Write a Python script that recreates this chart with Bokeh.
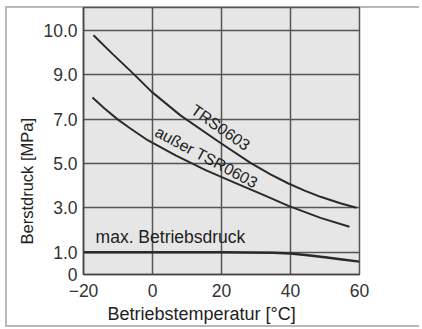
from bokeh.plotting import figure
from bokeh.models import FixedTicker, Label, Title
from bokeh.embed import file_html
from bokeh.resources import INLINE
import math

# ---- data ----
x_ticks = [-20, 0, 20, 40, 60]
y_ticks_mpa = [0, 1, 3, 5, 7, 9, 10]
y_tick_labels = ["0", "1.0", "3.0", "5.0", "7.0", "9.0", "10.0"]

temp_trs = [-17.1, -11.6, -5.5, -0.3, 8.1, 19.4, 28.4, 34.2, 39.4, 44.1, 48.7, 54.2, 59.1]
burst_trs = [9.89, 9.47, 9.02, 8.24, 7.17, 5.96, 5.03, 4.51, 4.10, 3.78, 3.50, 3.22, 3.01]

temp_other = [-17.4, -13.9, -10.1, -6.4, -1.4, 6.7, 15.4, 24.1, 32.8, 39.4, 48.7, 57.1]
burst_other = [7.97, 7.48, 6.99, 6.58, 6.05, 5.37, 4.70, 4.12, 3.54, 3.09, 2.55, 2.15]

temp_max = [-20, 0, 20, 35, 40, 45, 50, 55, 60]
press_max = [1.0, 1.0, 1.0, 0.98, 0.95, 0.87, 0.78, 0.68, 0.58]

label_trs = "TRS0603"
label_other = "außer TSR0603"
label_max = "max. Betriebsdruck"
x_label = "Betriebstemperatur [°C]"
y_label = "Berstdruck [MPa]"


# the reference's pressure axis is stretched above 9.0 MPa
def ypos(v):
    return v if v <= 9 else 9 + (v - 9) * 2.0


FONT = "Liberation Sans"
LINE = "#2a2a2a"
TXT = "#222222"
EDGE = "#b8b8b8"

p = figure(frame_width=276, frame_height=267,
           x_range=(-20, 60), y_range=(0, 12.03),
           output_backend="svg", toolbar_location=None,
           min_border_left=83, min_border_right=60,
           min_border_top=7, min_border_bottom=54)

# thin grey page frame (left, top, bottom) drawn behind a transparent canvas
p.styles = {
    "background": (
        f"linear-gradient({EDGE},{EDGE}) 5px 6px / 2px 321px no-repeat, "
        f"linear-gradient({EDGE},{EDGE}) 5px 6px / 414px 2px no-repeat, "
        f"linear-gradient({EDGE},{EDGE}) 5px 325px / 414px 2px no-repeat, "
        "white"
    )
}
p.border_fill_color = None

p.background_fill_color = "#e6e6e6"
p.outline_line_color = "#555555"
p.outline_line_width = 1.5

y_tick_pos = [ypos(v) for v in y_ticks_mpa]

p.xaxis.ticker = FixedTicker(ticks=x_ticks)
p.yaxis.ticker = FixedTicker(ticks=y_tick_pos)
p.xgrid.ticker = FixedTicker(ticks=x_ticks)
p.ygrid.ticker = FixedTicker(ticks=y_tick_pos)
p.yaxis.major_label_overrides = {pos: lab for pos, lab in zip(y_tick_pos, y_tick_labels)}

for g in (p.xgrid, p.ygrid):
    g.grid_line_color = "#555555"
    g.grid_line_width = 1.5

for ax in (p.xaxis, p.yaxis):
    ax.axis_line_color = "#444444"
    ax.axis_line_width = 1.5
    ax.major_tick_line_color = None
    ax.minor_tick_line_color = None
    ax.major_tick_out = 0
    ax.major_tick_in = 0
    ax.major_label_text_font = FONT
    ax.major_label_text_font_size = "17.5px"
    ax.major_label_text_color = "#333333"
p.xaxis.major_label_standoff = 9
p.yaxis.major_label_standoff = 6

p.line(temp_trs, [ypos(v) for v in burst_trs], line_color=LINE, line_width=2)
p.line(temp_other, [ypos(v) for v in burst_other], line_color=LINE, line_width=2)
p.line(temp_max, [ypos(v) for v in press_max], line_color=LINE, line_width=2.5)

p.add_layout(Label(x=19.7, y=ypos(6.62), text=label_trs, angle=-35 * math.pi / 180,
                   text_align="center", text_baseline="middle",
                   text_font=FONT, text_font_size="16px", text_color=TXT))
p.add_layout(Label(x=15.65, y=ypos(5.28), text=label_other, angle=-28 * math.pi / 180,
                   text_align="center", text_baseline="middle",
                   text_font=FONT, text_font_size="16px", text_color=TXT))
p.add_layout(Label(x=-16.5, y=ypos(1.69), text=label_max,
                   text_align="left", text_baseline="alphabetic",
                   text_font=FONT, text_font_size="17.5px", text_color=TXT))

p.add_layout(Title(text=x_label, align="left", offset=24, standoff=4,
                   text_font=FONT, text_font_size="18px", text_font_style="normal",
                   text_color=TXT), "below")
p.add_layout(Title(text=y_label, align="left", offset=30, standoff=10,
                   text_font=FONT, text_font_size="16.5px", text_font_style="normal",
                   text_color=TXT), "left")

open("out.html", "w").write(file_html(p, INLINE))
